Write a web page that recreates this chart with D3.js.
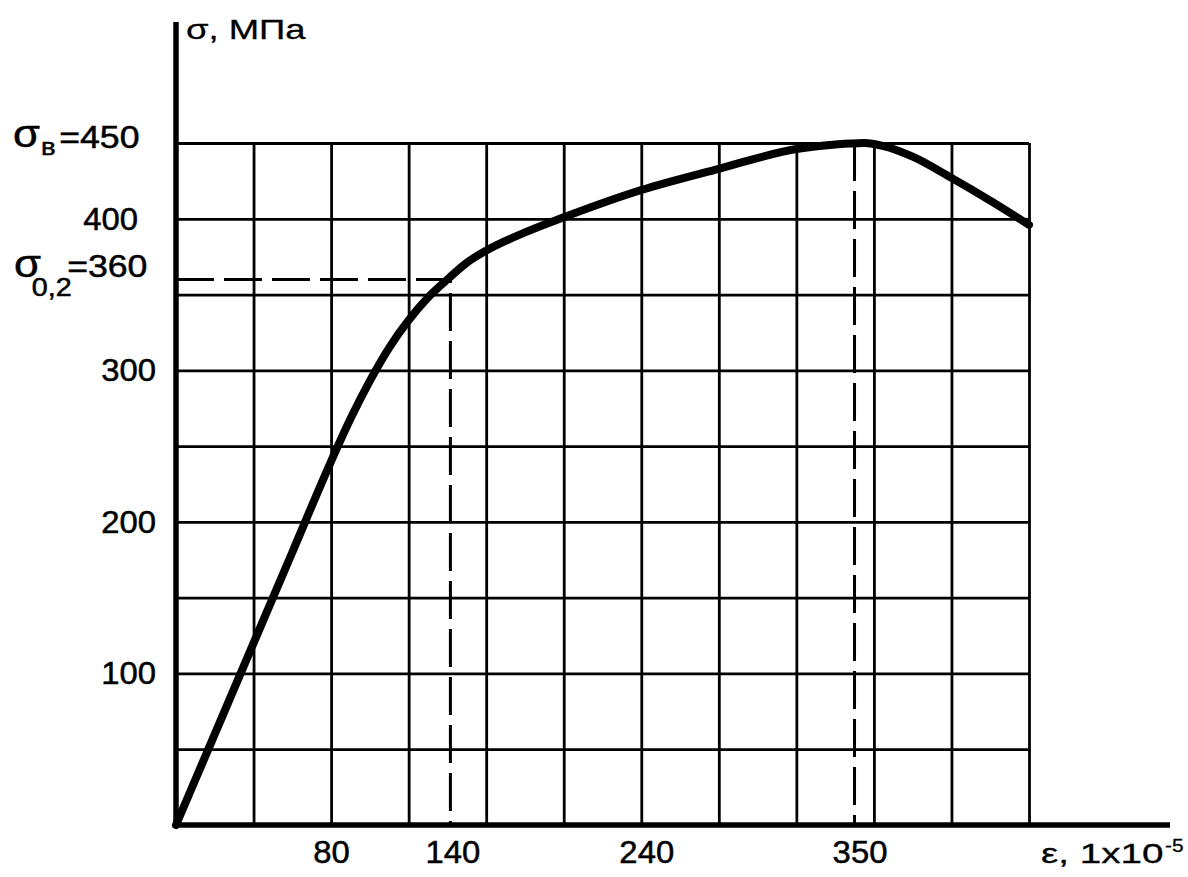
<!DOCTYPE html>
<html>
<head>
<meta charset="utf-8">
<script src="https://cdn.jsdelivr.net/npm/d3@7"></script>
<style>
  body { margin: 0; background: #fff; }
  svg text { font-family: "Liberation Sans", Arial, sans-serif; fill: #000; stroke: #000; stroke-width: 0.5; }
  .grid line { stroke: #000; stroke-width: 2.8; }
  .grid path { display: none; }
</style>
</head>
<body>
<svg id="chart"></svg>
<script>
// stress-strain curve, strain in 1e-5 units, stress in MPa
const strain = [0, 20, 40, 60, 80, 90, 100, 110, 120, 130, 140, 150, 160, 180, 200, 240, 280, 320, 340, 355, 365, 380, 400, 420, 440];
const stress = [0, 60, 120, 180, 240, 268, 293, 315, 333, 348, 360, 371, 379, 391, 401, 419, 433, 446, 449, 450, 448, 441, 427, 412, 396];

const xLabels = [80, 140, 240, 350];
const yLabels = [100, 200, 300, 400];

const yieldStrain = 140, yieldStress = 360;   // sigma 0,2
const ultStrain = 350, ultStress = 450;       // sigma b

const W = 1188, H = 877;
const plotL = 176, plotR = 1029, plotT = 143, plotB = 825;

const svg = d3.select('#chart')
  .attr('width', W)
  .attr('height', H);

const x = d3.scaleLinear().domain([0, 440]).range([plotL, plotR]);
const y = d3.scaleLinear().domain([0, 450]).range([plotB, plotT]);

// grid
svg.append('g')
  .attr('class', 'grid')
  .attr('transform', 'translate(0,' + plotB + ')')
  .call(d3.axisBottom(x)
    .tickValues(d3.range(40, 441, 40))
    .tickSize(-(plotB - plotT))
    .tickFormat(''))
  .selectAll('text').remove();

svg.append('g')
  .attr('class', 'grid')
  .attr('transform', 'translate(' + plotL + ',0)')
  .call(d3.axisLeft(y)
    .tickValues(d3.range(50, 451, 50))
    .tickSize(-(plotR - plotL))
    .tickFormat(''))
  .selectAll('text').remove();

// dashed guides
const dash = svg.append('g')
  .attr('fill', 'none')
  .attr('stroke', '#000')
  .attr('stroke-width', 3)
  .attr('stroke-dasharray', '38,10');

dash.append('path')
  .attr('d', d3.line()([[x(0), y(yieldStress)], [x(yieldStrain) + 3, y(yieldStress)], [x(yieldStrain) + 3, y(0)]]));

dash.append('path')
  .attr('d', d3.line()([[x(ultStrain), y(ultStress)], [x(ultStrain), y(0)]]));

// main axes, thicker and extended
svg.append('line')
  .attr('x1', x(0)).attr('x2', 1170)
  .attr('y1', y(0)).attr('y2', y(0))
  .attr('stroke', '#000').attr('stroke-width', 5.5);

svg.append('line')
  .attr('x1', x(0)).attr('x2', x(0))
  .attr('y1', y(0) + 2).attr('y2', 22)
  .attr('stroke', '#000').attr('stroke-width', 5.5);

// curve
const pts = strain.map((e, i) => [e, stress[i]]);
svg.append('path')
  .datum(pts)
  .attr('fill', 'none')
  .attr('stroke', '#000')
  .attr('stroke-width', 8)
  .attr('stroke-linecap', 'round')
  .attr('stroke-linejoin', 'round')
  .attr('d', d3.line()
    .x(d => x(d[0]))
    .y(d => y(d[1]))
    .curve(d3.curveMonotoneX));

// stretched text helper
function label(px, py, txt, size, sx, anchor) {
  return svg.append('text')
    .attr('transform', 'translate(' + px + ',' + py + ') scale(' + sx + ',1)')
    .attr('text-anchor', anchor || 'start')
    .attr('font-size', size)
    .text(txt);
}

const NUM_SIZE = 31, NUM_SX = 1.06;

// x tick labels
const xAxis = svg.append('g')
  .attr('transform', 'translate(0,' + plotB + ')')
  .call(d3.axisBottom(x).tickValues(xLabels).tickSize(0).tickPadding(16));
xAxis.select('.domain').remove();
xAxis.selectAll('text')
  .attr('font-size', NUM_SIZE)
  .attr('font-family', null)
  .attr('transform', d => 'translate(' + (d > 100 ? 5 : 0) + ',0) scale(' + NUM_SX + ',1)');

// y tick labels (the 400 label sits further left in the original)
yLabels.forEach(v => {
  label(v === 400 ? 138 : 156, y(v), v, NUM_SIZE, NUM_SX, 'end')
    .attr('dy', '0.35em');
});

// sigma_b = 450
const sb = svg.append('text')
  .attr('transform', 'translate(13,147) scale(1.15,1)');
sb.append('tspan').attr('font-size', 38).text('σ');
sb.append('tspan').attr('font-size', 24).attr('dx', 1).attr('dy', 8).text('в');
sb.append('tspan').attr('font-size', NUM_SIZE).attr('dx', 3).attr('dy', -7).text('=' + ultStress);

// sigma_0,2 = 360
const s02 = svg.append('text')
  .attr('transform', 'translate(14,277) scale(1.15,1)');
s02.append('tspan').attr('font-size', 38).text('σ');
s02.append('tspan').attr('font-size', 25).attr('dx', -8).attr('dy', 19).text('0,2');
s02.append('tspan').attr('font-size', NUM_SIZE).attr('dx', -4).attr('dy', -19).text('=' + yieldStress);

// axis titles
label(186, 39, 'σ, МПа', 27, 1.35).style('stroke-width', 0.3);
label(1041, 863, 'ε, 1x10', 28, 1.38).style('stroke-width', 0.3);
label(1165, 852, '-5', 19, 1.1).style('stroke-width', 0.3);
</script>
</body>
</html>
